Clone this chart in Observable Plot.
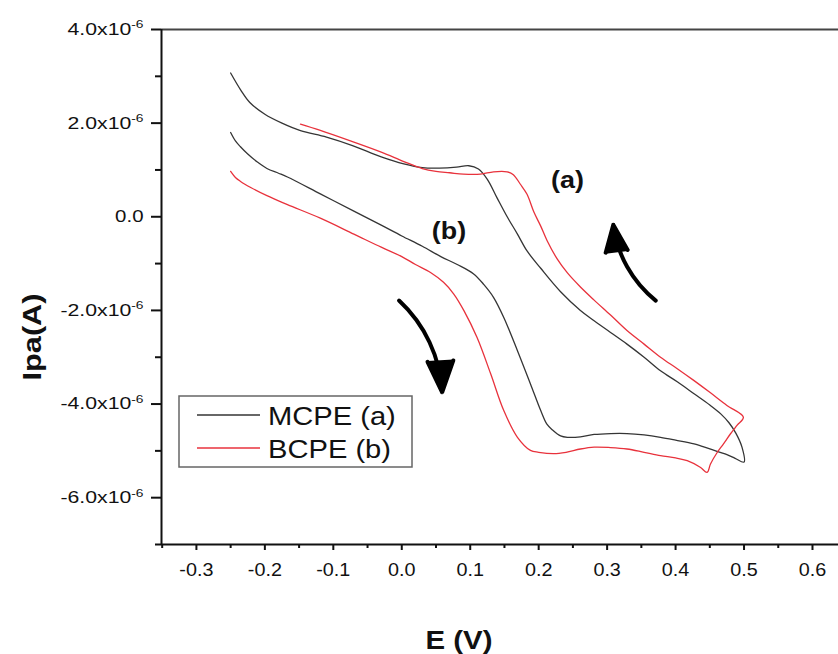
<!DOCTYPE html>
<html><head><meta charset="utf-8">
<script src="https://cdn.jsdelivr.net/npm/d3@7"></script>
<script src="https://cdn.jsdelivr.net/npm/@observablehq/plot@0.6"></script>
<style>body{margin:0;background:#fff}#chart{width:838px;height:654px}</style>
</head><body><div id="chart"></div>
<script>
// MCPE (a) — black curve: forward branch then reverse branch (E in V, I in 10^-6 A)
const mcpeE = [-0.250,-0.235,-0.222,-0.200,-0.175,-0.148,-0.110,-0.072,-0.030,0.003,0.030,0.055,0.080,0.098,0.112,0.125,0.139,0.154,0.169,0.183,0.203,0.232,0.261,0.281,0.305,0.329,0.354,0.378,0.403,0.427,0.450,0.466,0.478,0.488,0.497,0.500,
  0.487,0.475,0.450,0.427,0.400,0.378,0.354,0.329,0.305,0.281,0.261,0.242,0.232,0.220,0.212,0.203,0.188,0.169,0.149,0.134,0.120,0.105,0.081,0.057,0.030,0.000,-0.030,-0.070,-0.119,-0.167,-0.180,-0.197,-0.212,-0.225,-0.236,-0.243,-0.250];
const mcpeI = [3.07,2.70,2.44,2.19,2.00,1.84,1.70,1.52,1.28,1.13,1.05,1.04,1.06,1.09,1.02,0.80,0.41,0.00,-0.37,-0.73,-1.10,-1.60,-2.00,-2.22,-2.47,-2.72,-3.00,-3.29,-3.53,-3.78,-4.02,-4.21,-4.40,-4.62,-4.92,-5.24,
  -5.16,-5.08,-4.96,-4.85,-4.77,-4.71,-4.66,-4.63,-4.63,-4.65,-4.70,-4.71,-4.68,-4.55,-4.43,-4.14,-3.57,-2.86,-2.15,-1.72,-1.45,-1.22,-1.02,-0.85,-0.63,-0.41,-0.18,0.12,0.49,0.85,0.93,1.03,1.18,1.34,1.50,1.62,1.80];
// BCPE (b) — red curve
const bcpeE = [-0.148,-0.120,-0.075,-0.030,0.003,0.030,0.050,0.070,0.090,0.115,0.134,0.154,0.163,0.173,0.183,0.193,0.203,0.212,0.227,0.242,0.261,0.281,0.305,0.329,0.354,0.378,0.403,0.427,0.450,0.475,0.499,0.490,0.480,0.470,0.461,0.451,0.446,
  0.436,0.417,0.400,0.378,0.354,0.329,0.305,0.281,0.261,0.240,0.222,0.200,0.188,0.169,0.149,0.130,0.110,0.091,0.076,0.061,0.042,0.020,0.000,-0.030,-0.070,-0.119,-0.167,-0.197,-0.220,-0.236,-0.243,-0.250];
const bcpeI = [1.98,1.85,1.62,1.38,1.18,1.03,0.97,0.94,0.91,0.91,0.96,0.96,0.90,0.70,0.48,0.10,-0.20,-0.50,-0.90,-1.20,-1.50,-1.78,-2.10,-2.43,-2.72,-3.00,-3.25,-3.50,-3.75,-4.03,-4.28,-4.45,-4.64,-4.85,-5.03,-5.28,-5.46,
  -5.35,-5.21,-5.15,-5.10,-5.03,-4.96,-4.93,-4.92,-4.96,-5.03,-5.06,-5.03,-4.99,-4.71,-4.14,-3.36,-2.58,-2.01,-1.65,-1.40,-1.19,-1.02,-0.85,-0.65,-0.37,-0.03,0.26,0.45,0.62,0.76,0.84,0.97];

const seriesNames = ["MCPE (a)", "BCPE (b)"];
const seriesColors = ["#353535", "#e8323c"];

const xMajorTicks = [-0.3,-0.2,-0.1,0.0,0.1,0.2,0.3,0.4,0.5,0.6];
const xMinorTicks = [-0.35,-0.25,-0.15,-0.05,0.05,0.15,0.25,0.35,0.45,0.55];
const yMajorTicks = [4,2,0,-2,-4,-6];
const yMinorTicks = [3,1,-1,-3,-5,-7];
const xDomain = [-0.351, 0.638];
const yDomain = [-7, 4];

const labelTexts = ["(a)", "(b)"];
const labelE = [0.242, 0.069];
const labelI = [0.77, -0.30];

const arrowE1 = [-0.004, 0.371];
const arrowI1 = [-1.79, -1.79];
const arrowE2 = [0.059, 0.309];
const arrowI2 = [-3.75, -0.17];

const mcpe = mcpeE.map((e, i) => ({E: e, I: mcpeI[i]}));
const bcpe = bcpeE.map((e, i) => ({E: e, I: bcpeI[i]}));
const labels = labelTexts.map((t, i) => ({t, E: labelE[i], I: labelI[i]}));
const arrows = arrowE1.map((e, i) => ({e1: e, i1: arrowI1[i], e2: arrowE2[i], i2: arrowI2[i]}));

const yFmt = d => d === 0 ? "0.0" : d.toFixed(1) + "x10^-6";
const xFmt = d => d.toFixed(1) + "\u200B";
const FONT = "'Liberation Sans', Arial, sans-serif";

const plot = Plot.plot({
  width: 838, height: 654,
  marginLeft: 161, marginRight: 0, marginTop: 29, marginBottom: 110,
  x: {domain: xDomain},
  y: {domain: yDomain},
  style: {fontFamily: FONT, fontSize: "17px", background: "white", color: "#111", overflow: "visible"},
  marks: [
    Plot.ruleY([yDomain[1]], {stroke: "#444", strokeWidth: 2}),
    Plot.ruleX([xDomain[0]], {stroke: "#111", strokeWidth: 2}),
    Plot.ruleY([yDomain[0]], {stroke: "#111", strokeWidth: 2}),
    Plot.axisX({ticks: xMajorTicks, tickSize: 6, tickPadding: 13, tickFormat: xFmt, label: null, strokeWidth: 2}),
    Plot.axisX({ticks: xMinorTicks, tickSize: 4, tickFormat: () => "", label: null, strokeWidth: 2}),
    Plot.axisY({ticks: yMajorTicks, tickSize: 10, tickPadding: 8, tickFormat: yFmt, label: null, strokeWidth: 2}),
    Plot.axisY({ticks: yMinorTicks, tickSize: 6, tickFormat: () => "", label: null, strokeWidth: 2}),
    Plot.line(mcpe, {x: "E", y: "I", stroke: seriesColors[0], strokeWidth: 1.3, curve: "catmull-rom"}),
    Plot.line(bcpe, {x: "E", y: "I", stroke: seriesColors[1], strokeWidth: 1.3, curve: "catmull-rom"}),
    Plot.arrow(arrows, {x1: "e1", y1: "i1", x2: "e2", y2: "i2", bend: 22, stroke: "#000", strokeWidth: 4, headLength: 16, headAngle: 45}),
    Plot.text(labels, {x: "E", y: "I", text: "t", fontSize: 24, fontWeight: "bold", fill: "#111"})
  ]
});

const svg = d3.select(plot);
const stretchList = [];
svg.selectAll("text").each(function() {
  const t = d3.select(this);
  const s = t.text();
  if (s.includes("^")) {
    const [base, exp] = s.split("^");
    t.text("");
    t.append("tspan").text(base);
    t.append("tspan").attr("dy", "-0.6em").attr("font-size", 11).text(exp);
    t.attr("font-size", 17);
    stretchList.push([this, 1.25]);
  } else if (s.endsWith("\u200B")) {
    t.text(s.slice(0, -1)).attr("font-size", 18);
    stretchList.push([this, 1.1]);
  } else if (s === "0.0") {
    t.attr("font-size", 17);
    stretchList.push([this, 1.2]);
  } else if (labelTexts.includes(s)) {
    stretchList.push([this, 1.12]);
  }
});

// fill the arrowheads (turn the open V of each arrow into a solid triangle)
const headPaths = [];
svg.selectAll("path").each(function() {
  const d = this.getAttribute("d") || "";
  if (!/A/i.test(d)) return;
  const parts = d.split("M").filter(p => p.trim().length);
  if (parts.length < 2) return;
  const head = parts[parts.length - 1];
  const nums = head.match(/-?\d*\.?\d+(?:e-?\d+)?/gi);
  if (!nums || nums.length < 6) return;
  const p = nums.slice(0, 6).map(Number);
  headPaths.push([this.parentNode, p]);
});
for (const [parent, p] of headPaths) {
  d3.select(parent).append("path")
    .attr("d", `M${p[0]},${p[1]}L${p[2]},${p[3]}L${p[4]},${p[5]}Z`)
    .attr("fill", "#000").attr("stroke", "#000").attr("stroke-width", 2).attr("stroke-linejoin", "miter");
}

// legend
const lg = svg.append("g").attr("font-family", FONT).attr("text-anchor", "start");
lg.append("rect").attr("x", 179).attr("y", 396).attr("width", 233).attr("height", 71)
  .attr("fill", "white").attr("stroke", "#666").attr("stroke-width", 1.5);
seriesNames.forEach((name, i) => {
  const yy = 415 + i * 33;
  lg.append("line").attr("x1", 197).attr("x2", 260).attr("y1", yy).attr("y2", yy)
    .attr("stroke", seriesColors[i]).attr("stroke-width", 1.3);
  const tx = lg.append("text").attr("x", 268).attr("y", yy + 10).attr("font-size", 26).attr("fill", "#111").text(name);
  stretchList.push([tx.node(), 1.12]);
});

// axis titles
const yt = svg.append("text").attr("transform", "translate(41,337) rotate(-90)").attr("text-anchor", "middle")
  .attr("font-size", 26).attr("font-weight", "bold").attr("fill", "#111")
  .attr("font-family", FONT).text("Ipa(A)");
const xt = svg.append("text").attr("x", 459).attr("y", 649).attr("text-anchor", "middle")
  .attr("font-size", 26).attr("font-weight", "bold").attr("fill", "#111")
  .attr("font-family", FONT).text("E (V)");
stretchList.push([yt.node(), 1.18], [xt.node(), 1.13]);

document.getElementById("chart").append(plot);

// widen glyphs horizontally to match the reference's wide lettering
for (const [node, k] of stretchList) {
  const len = node.getComputedTextLength();
  if (len > 0) {
    node.setAttribute("textLength", (len * k).toFixed(1));
    node.setAttribute("lengthAdjust", "spacingAndGlyphs");
  }
}
</script>
</body></html>
